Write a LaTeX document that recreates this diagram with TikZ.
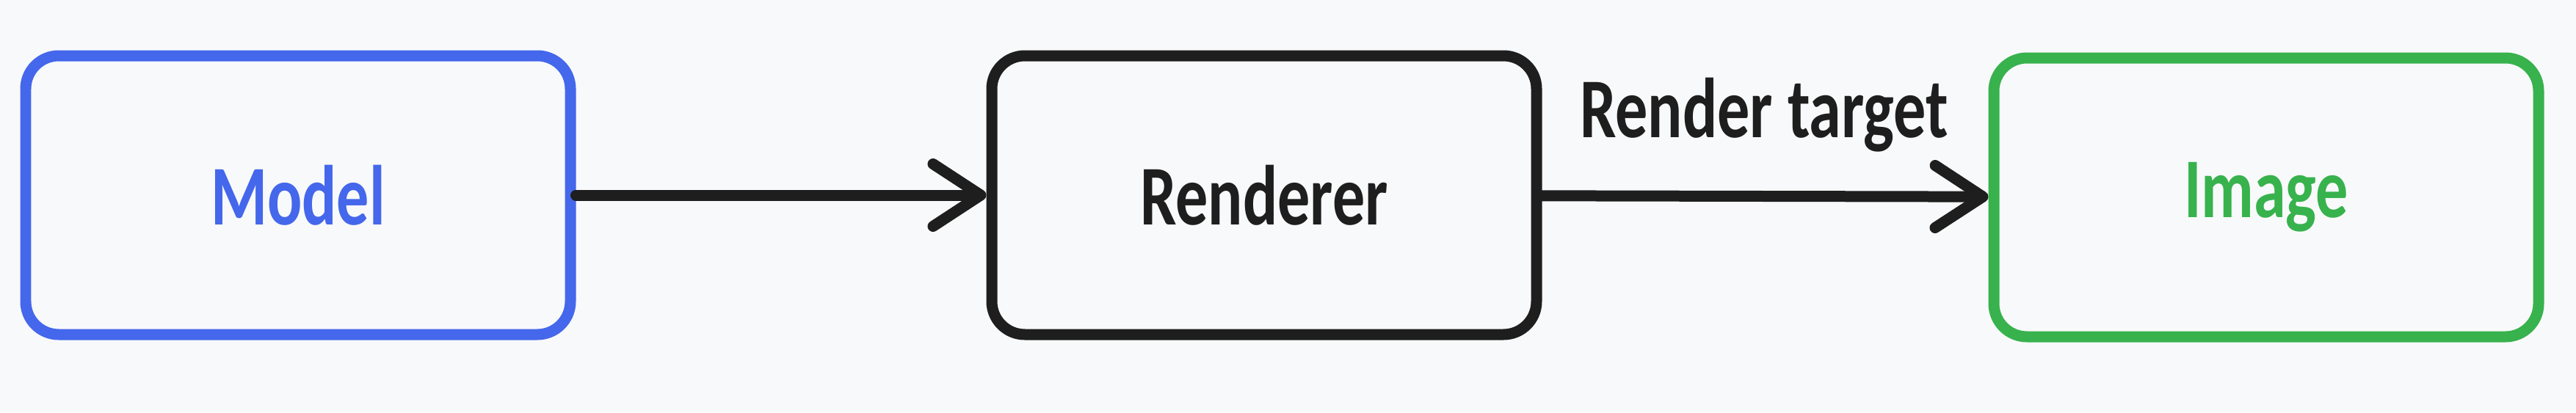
\documentclass[tikz,border=0pt]{standalone}
\usepackage{fontspec}
\setmainfont[FakeStretch=0.76]{Carlito}
\usetikzlibrary{arrows.meta}
\definecolor{bgpaper}{HTML}{F8F9FA}
\definecolor{inkblue}{HTML}{4467EB}
\definecolor{inkgreen}{HTML}{37B24D}
\definecolor{inkblack}{HTML}{1E1E1E}
\tikzset{
	box/.style={draw, fill=bgpaper, rounded corners=0.45cm, line width=0.15cm, minimum width=7.42cm, minimum height=3.8cm, inner sep=0pt, font=\fontsize{33}{36}\selectfont\bfseries},
	flow/.style={draw=inkblack, line width=0.15cm, line cap=round, -{Straight Barb[length=6.5mm,width=8.5mm,round]}},
}

\begin{document}
\begin{tikzpicture}
		%%%%% START %%%%%
		
		\fill[bgpaper] (0, 0) rectangle (35.09, 5.62);
		\useasboundingbox (0, 0) rectangle (35.09, 5.62);
		
		\node[box, draw=inkblue, text=inkblue] (model) at (4.06, 2.96) {Model};
		\node[box, draw=inkblack, text=inkblack] (renderer) at (17.22, 2.96) {Renderer};
		\node[box, draw=inkgreen, text=inkgreen] (image) at (30.87, 2.93) {Image};
		
		\draw[flow] (model) -- (renderer);
		\draw[flow] (renderer) -- (image);
		
		\node[anchor=base, text=inkblack, font=\fontsize{33}{36}\selectfont\bfseries] (target) at (24.03, 3.75) {Render target};
		
		%%%%% END %%%%%
	\end{tikzpicture}
\end{document}
